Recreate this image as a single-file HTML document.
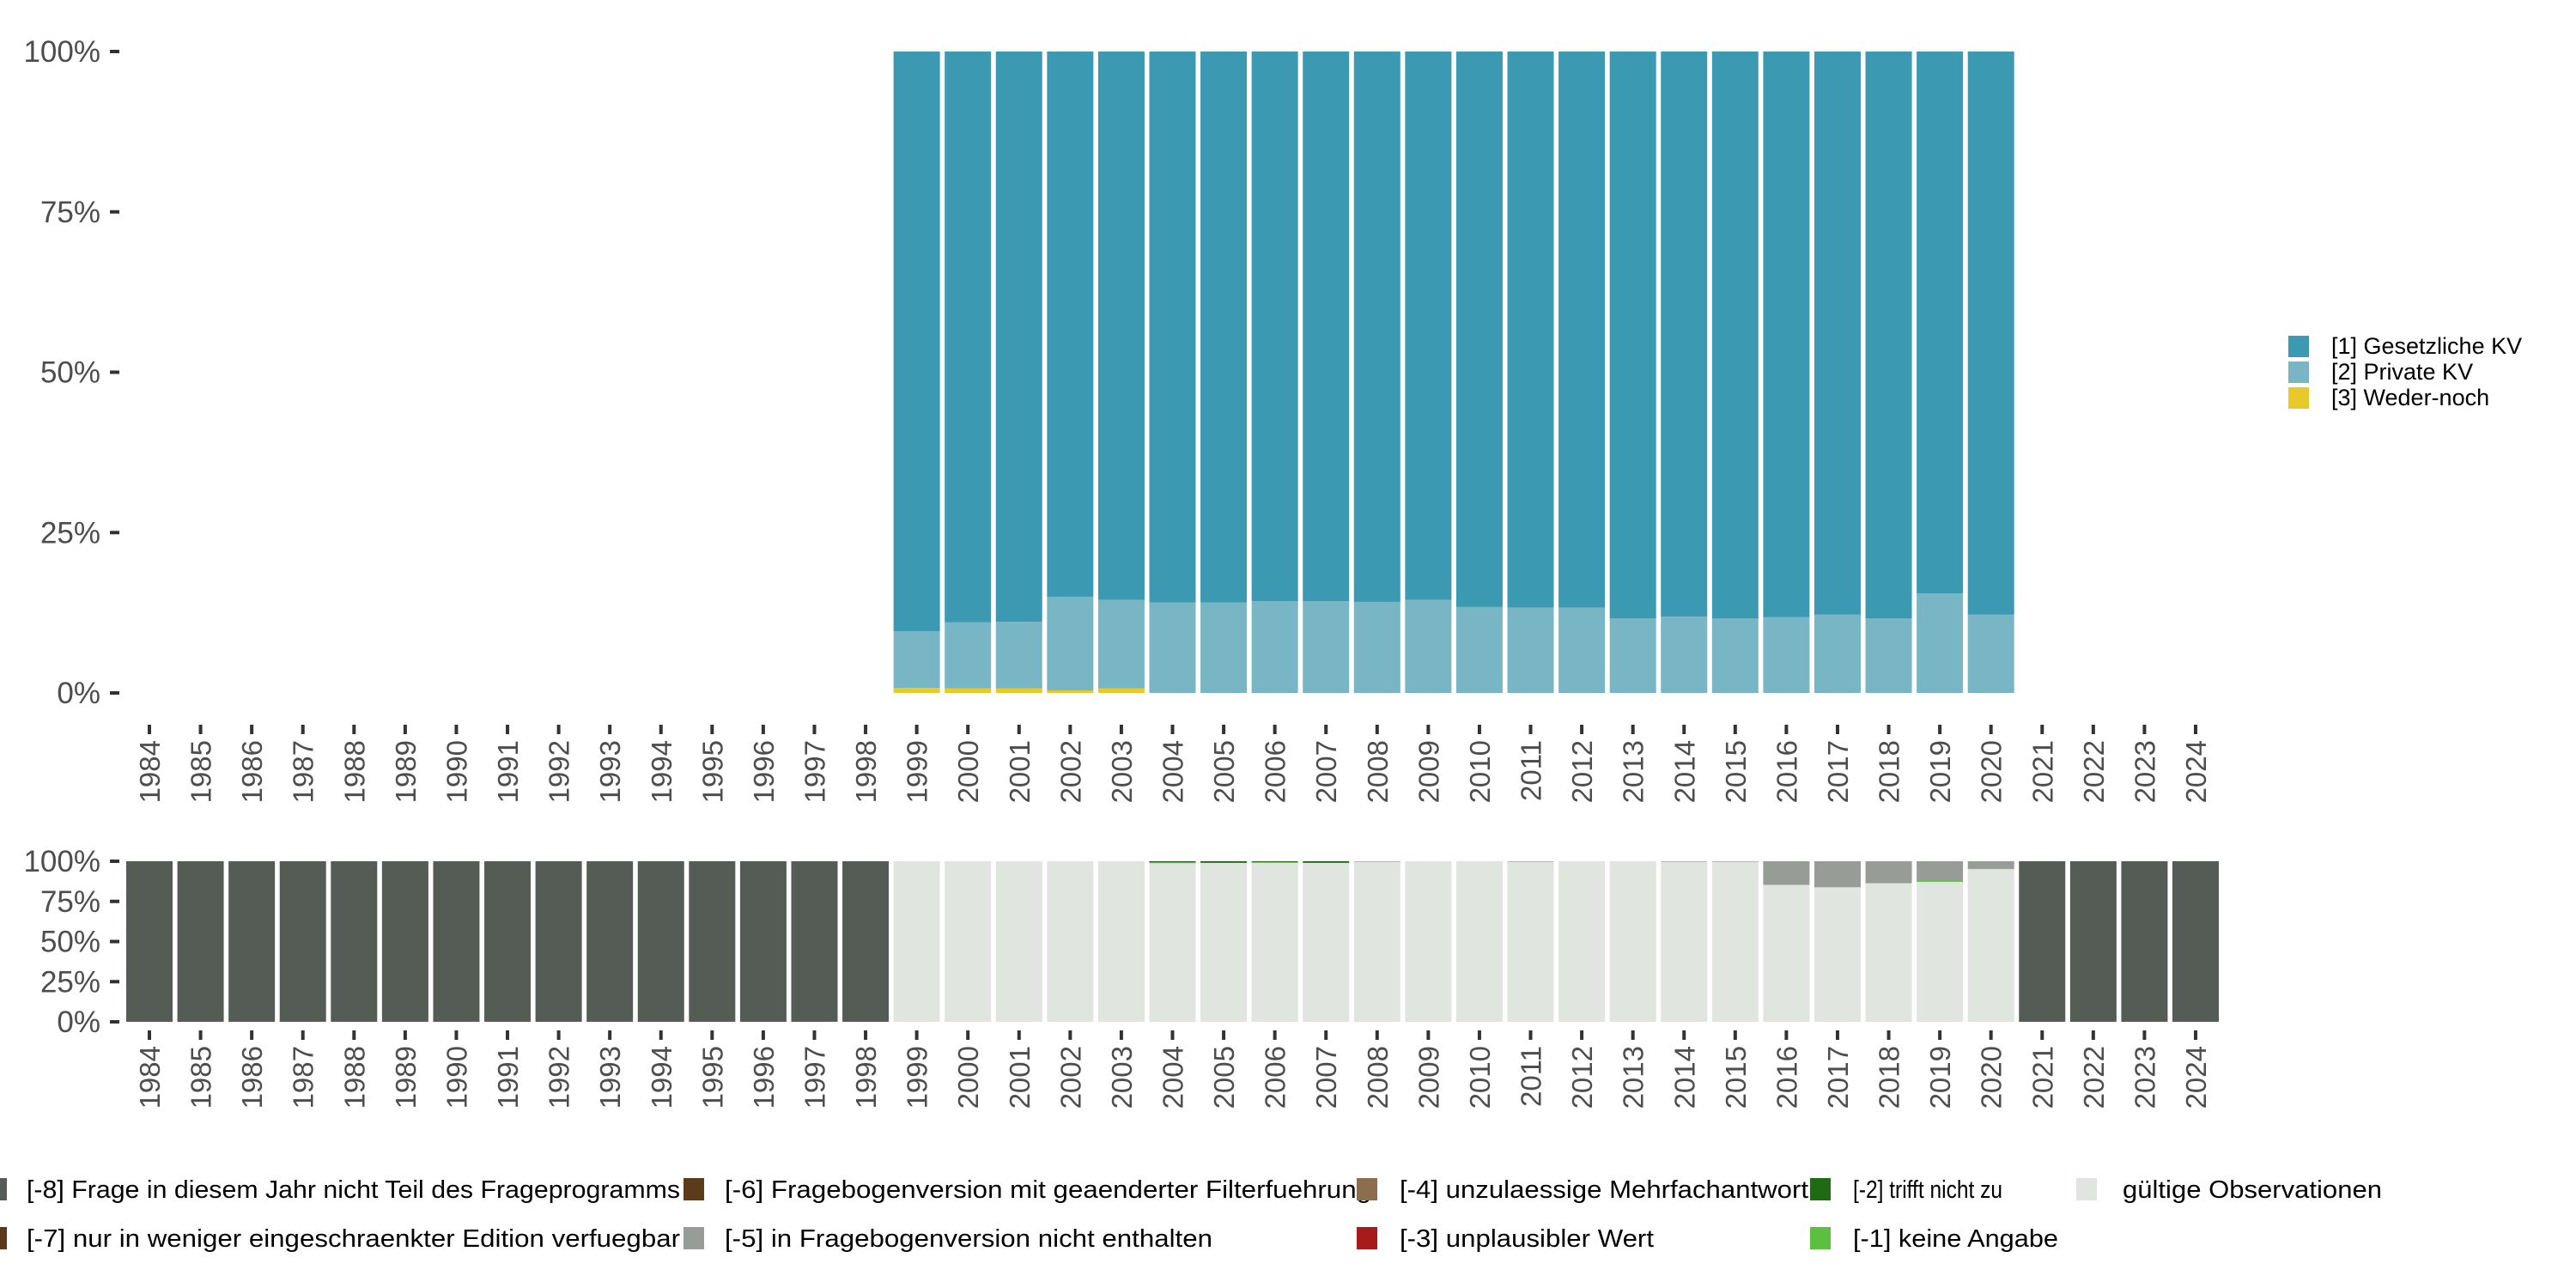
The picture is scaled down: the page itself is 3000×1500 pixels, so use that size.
<!DOCTYPE html>
<html><head><meta charset="utf-8"><style>
html,body{margin:0;padding:0;background:#fff}
svg{display:block;font-family:"Liberation Sans","DejaVu Sans",sans-serif}
</style></head><body>
<svg id="chart" width="3000" height="1500" viewBox="0 0 3000 1500" xmlns="http://www.w3.org/2000/svg">
<g id="topPanel"></g>
<g id="botPanel"></g>
<g id="legTop"></g>
<g id="legBot"></g>
</svg>
<script>
const years = [];
for (let y = 1984; y <= 2024; y++) years.push(y);
const topYears = [1999,2000,2001,2002,2003,2004,2005,2006,2007,2008,2009,2010,2011,2012,2013,2014,2015,2016,2017,2018,2019,2020];
const wederNoch = [0.8,0.7,0.7,0.4,0.7,0,0,0,0,0,0,0,0,0,0,0,0,0,0,0,0,0];
const privateKV = [8.8,10.3,10.4,14.6,13.8,14.1,14.1,14.3,14.3,14.2,14.5,13.4,13.3,13.3,11.6,11.9,11.6,11.8,12.2,11.6,15.5,12.2];
const missing8Years = [1984,1985,1986,1987,1988,1989,1990,1991,1992,1993,1994,1995,1996,1997,1998,2021,2022,2023,2024];
const miss5 = [0,0,0,0,0,0,0,0,0,0,0,0,0,0,0,0,0,14.7,16.2,13.7,12.3,4.4];
const miss2 = [0,0,0,0,0,0.7,1.0,0.5,1.0,0,0,0,0,0,0,0,0,0,0,0,0,0];
const miss1 = [0,0,0,0,0,0.5,0,0.5,0,0.3,0,0,0.3,0,0,0.3,0.3,0,0,0,0.5,0.5];
const yTicks = [0,25,50,75,100];
const yTickLabels = ["0%","25%","50%","75%","100%"];

const NS = "http://www.w3.org/2000/svg";
function mk(tag, attrs, parent){const e=document.createElementNS(NS,tag);for(const k in attrs)e.setAttribute(k,attrs[k]);parent.appendChild(e);return e;}
const xScale = y => 174 + (y - 1984) * 59.575;
const BW = 54;
function yTop(v){return 807 - v/100*747;}
function yBot(v){return 1190 - v/100*187;}

function axes(g, ys, labelTop, name){
  yTicks.forEach((t,i)=>{
    const yy = ys(t);
    const tk = mk('rect',{x:128,y:yy-2,width:11,height:4,fill:'#333'},g);
    
    
    const tx = mk('text',{x:117,y:yy+12,'text-anchor':'end','font-size':35,fill:'#4d4d4d'},g);
    tx.textContent = yTickLabels[i];
    
    
  });
  years.forEach(y=>{
    const x = xScale(y);
    const tk = mk('rect',{x:x-2,y:labelTop-18,width:4,height:11,fill:'#333'},g);
    
    
    const tx = mk('text',{x:0,y:0,'text-anchor':'end','font-size':33,fill:'#4d4d4d',transform:`translate(${x+12},${labelTop}) rotate(-90)`},g);
    tx.textContent = y;
    
    
  });
}

const topG = document.getElementById('topPanel');
const botG = document.getElementById('botPanel');
topYears.forEach((yr,i)=>{
  const x = xScale(yr) - BW/2;
  const segs = [[wederNoch[i],'#e8c92a','bar-weder-noch'],[privateKV[i],'#78b6c6','bar-private-kv'],[100-wederNoch[i]-privateKV[i],'#3c99b2','bar-gesetzliche-kv']];
  let c = 0;
  segs.forEach(s=>{
    if (s[0] <= 0) return;
    const r = mk('rect',{x:x,y:yTop(c+s[0]),width:BW,height:yTop(c)-yTop(c+s[0]),fill:s[1]},topG);
    
    
    c += s[0];
  });
  const valid = 100 - miss5[i] - miss2[i] - miss1[i];
  const bsegs = [[valid,'#e0e5e0','bar-valid'],[miss1[i],'#5bbf3f','bar-keine-angabe'],[miss2[i],'#1e6b13','bar-trifft-nicht-zu'],[miss5[i],'#989c96','bar-nicht-enthalten']];
  c = 0;
  bsegs.forEach(s=>{
    if (s[0] <= 0) return;
    const r = mk('rect',{x:x,y:yBot(c+s[0]),width:BW,height:yBot(c)-yBot(c+s[0]),fill:s[1]},botG);
    
    
    c += s[0];
  });
});
missing8Years.forEach(yr=>{
  const r = mk('rect',{x:xScale(yr)-BW/2,y:yBot(100),width:BW,height:yBot(0)-yBot(100),fill:'#555b55'},botG);
  
  
});
axes(topG, yTop, 862, 'top');
axes(botG, yBot, 1218, 'bottom');

const lt = document.getElementById('legTop');
const topLegend = [["[1] Gesetzliche KV","#3c99b2"],["[2] Private KV","#78b6c6"],["[3] Weder-noch","#e8c92a"]];
topLegend.forEach((l,i)=>{
  const r = mk('rect',{x:2665,y:391+i*30,width:24,height:25,fill:l[1]},lt);
  
  
  const t = mk('text',{x:2715,y:412+i*30,'font-size':27,fill:'#000'},lt);
  t.textContent = l[0];
  
  
});

const lb = document.getElementById('legBot');
const botLegend = [
 ["[-8] Frage in diesem Jahr nicht Teil des Frageprogramms","#555b55",-16,31,1385,761],
 ["[-7] nur in weniger eingeschraenkter Edition verfuegbar","#5a3a1a",-16,31,1442,761],
 ["[-6] Fragebogenversion mit geaenderter Filterfuehrung","#5c3a1a",796,844,1385,753],
 ["[-5] in Fragebogenversion nicht enthalten","#989c96",796,844,1442,568],
 ["[-4] unzulaessige Mehrfachantwort","#8c6e4e",1580,1630,1385,476],
 ["[-3] unplausibler Wert","#a81b1b",1580,1630,1442,296],
 ["[-2] trifft nicht zu","#1e6b13",2108,2158,1385,174],
 ["[-1] keine Angabe","#5bbf3f",2108,2158,1442,239],
 ["gültige Observationen","#e0e5e0",2418,2472,1385,302]
];
botLegend.forEach(l=>{
  const r = mk('rect',{x:l[2],y:l[4]-13,width:24,height:26,fill:l[1]},lb);
  
  
  const t = mk('text',{x:l[3],y:l[4]+10,'font-size':29,fill:'#000',textLength:l[5],lengthAdjust:'spacingAndGlyphs'},lb);
  t.textContent = l[0];
  
  
});
</script>
</body></html>
